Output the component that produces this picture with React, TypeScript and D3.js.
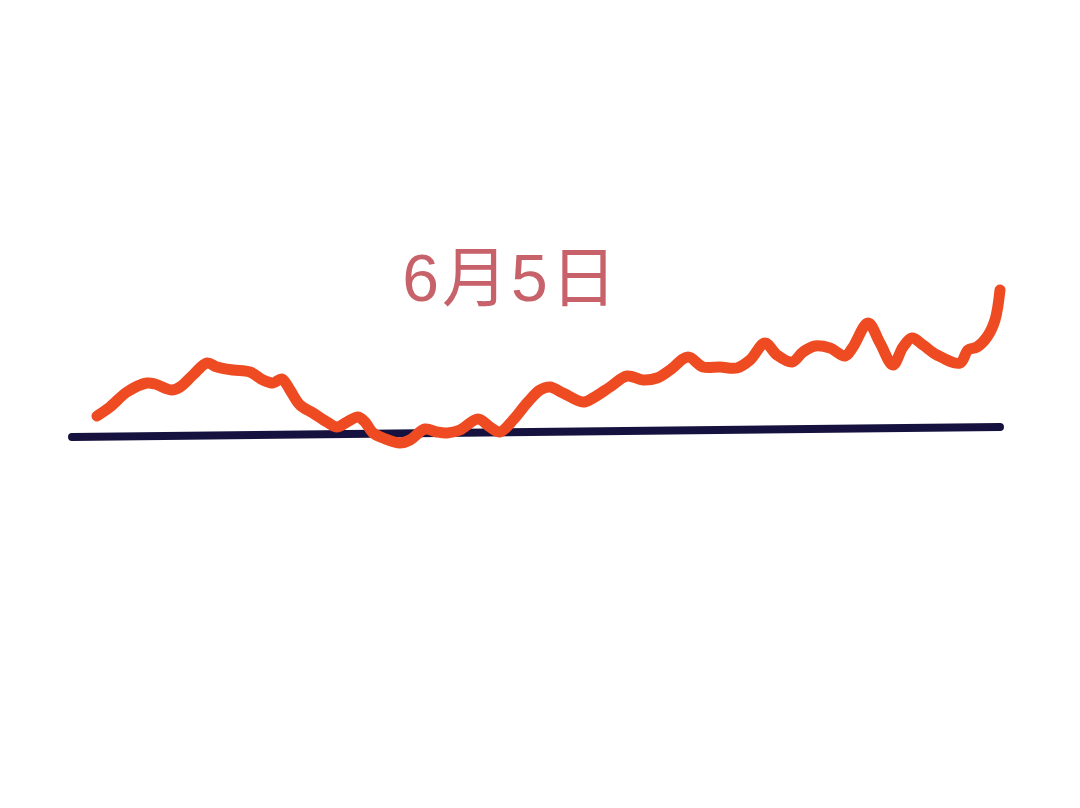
import { useRef, useEffect } from 'react';
import * as d3 from 'd3';

// horizontal position along the sketch (arbitrary units) and level above the baseline
const times = [
  25, 38, 55, 75, 83, 100, 108, 121, 135, 145, 161, 178, 191, 201, 210, 218, 228, 241, 255, 265,
  275, 286, 293, 301, 311, 328, 338, 353, 365, 375, 388, 406, 418, 428, 441, 455, 468, 478, 491,
  511, 521, 538, 555, 571, 585, 598, 616, 631, 648, 665, 678, 693, 705, 720, 731, 743, 758, 773,
  781, 796, 808, 821, 831, 840, 851, 865, 888, 896, 905, 915, 923, 928,
];
const levels = [
  21, 30, 45, 54, 53, 47, 50, 62, 74, 70, 67, 65, 57, 54, 58, 47, 32, 24, 15, 10,
  15, 20, 15, 4, -1, -6, -3, 8, 5, 4, 7, 18, 10, 5, 17, 34, 47, 50, 44,
  35, 39, 50, 61, 57, 59, 67, 80, 70, 70, 69, 77, 94, 82, 75, 85, 91, 89, 81,
  90, 114, 94, 72, 90, 99, 92, 82, 74, 87, 90, 100, 117, 147,
];
const baselineTimes = [0, 928];
const baselineLevels = [0, 10];
const title = '6月5日';

export default function App() {
  const svgRef = useRef<SVGSVGElement>(null);

  useEffect(() => {
    if (!svgRef.current) return;
    const svg = d3.select(svgRef.current);
    svg.selectAll('*').remove();

    const width = 1080;
    const height = 808;

    const x = d3.scaleLinear().domain([0, 928]).range([72, 1000]);
    const y = d3.scaleLinear().domain([0, 100]).range([437, 337]);

    svg.attr('width', width).attr('height', height);
    svg.append('rect').attr('width', width).attr('height', height).attr('fill', '#ffffff');

    // title
    svg
      .append('text')
      .attr('x', 511)
      .attr('y', 301)
      .attr('text-anchor', 'middle')
      .attr('fill', '#c8626a')
      .attr('font-size', '66px')
      .attr('letter-spacing', '3px')
      .attr('font-family', '"Liberation Sans", "Noto Sans CJK SC", sans-serif')
      .text(title);

    // baseline
    const base = d3
      .line<number>()
      .x((d) => x(d))
      .y((_d, i) => y(baselineLevels[i]));
    svg
      .append('path')
      .attr('d', base(baselineTimes))
      .attr('fill', 'none')
      .attr('stroke', '#16123f')
      .attr('stroke-width', 8)
      .attr('stroke-linecap', 'round');

    // series
    const line = d3
      .line<number>()
      .x((d) => x(d))
      .y((_d, i) => y(levels[i]))
      .curve(d3.curveCatmullRom.alpha(0.5));
    svg
      .append('path')
      .attr('d', line(times))
      .attr('fill', 'none')
      .attr('stroke', '#ee4b22')
      .attr('stroke-width', 11)
      .attr('stroke-linecap', 'round')
      .attr('stroke-linejoin', 'round');
  }, []);

  return (
    <div style={{ position: 'absolute', left: 0, top: 0 }}>
      <svg ref={svgRef} style={{ display: 'block' }} />
    </div>
  );
}
